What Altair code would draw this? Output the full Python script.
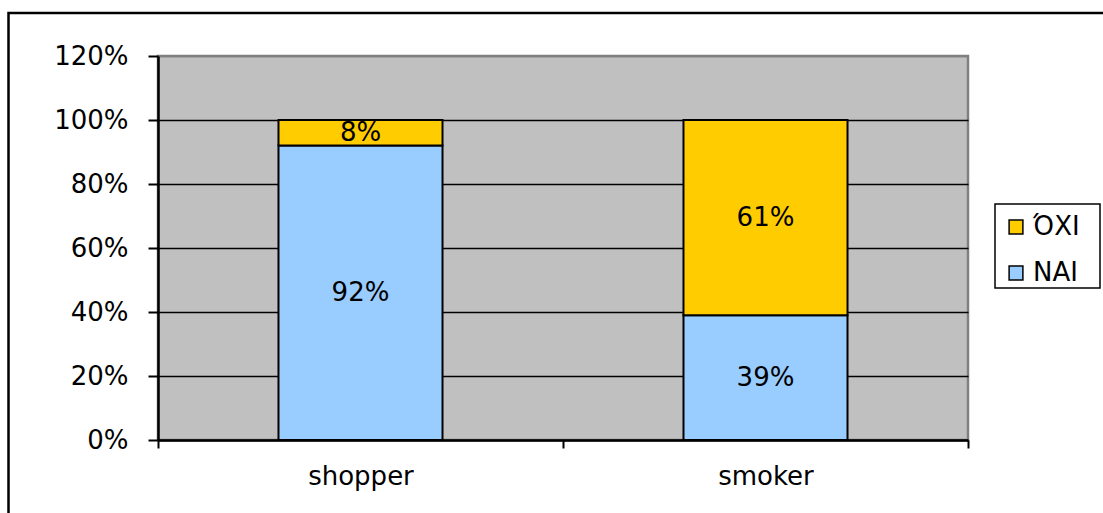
import altair as alt
import pandas as pd

categories = ["shopper", "smoker"]
answers_legend = ["ΌΧΙ", "ΝΑΙ"]
nai_values = [0.92, 0.39]
oxi_values = [0.08, 0.61]
y_ticks = [0, 0.2, 0.4, 0.6, 0.8, 1.0, 1.2]

rows = []
for i, c in enumerate(categories):
    rows.append({"category": c, "answer": "ΝΑΙ", "value": nai_values[i], "order": 0})
    rows.append({"category": c, "answer": "ΌΧΙ", "value": oxi_values[i], "order": 1})
df = pd.DataFrame(rows)

FONT = "DejaVu Sans"
FS = 26

x_enc = alt.X(
    "category:N",
    sort=categories,
    scale=alt.Scale(paddingInner=0, paddingOuter=0),
    axis=alt.Axis(title=None, labelAngle=0, tickBand="extent", tickSize=8,
                  labelPadding=15, domainWidth=2.5, tickWidth=2),
)

bars = alt.Chart(df).mark_bar(
    stroke="black", strokeWidth=2, width=alt.RelativeBandSize(0.405)
).encode(
    x=x_enc,
    y=alt.Y(
        "value:Q",
        stack="zero",
        scale=alt.Scale(domain=[0, 1.2], nice=False),
        axis=alt.Axis(title=None, format=".0%", values=y_ticks, grid=True,
                      tickSize=10, labelPadding=20, domainWidth=2.5, tickWidth=2,
                      gridColor={"condition": {"test": "datum.value >= 1.19", "value": "#808080"},
                                 "value": "black"}),
    ),
    color=alt.Color(
        "answer:N",
        scale=alt.Scale(domain=answers_legend, range=["#FFCC00", "#99CCFF"]),
        legend=alt.Legend(title=None, orient="none", legendX=845, legendY=158,
                          padding=0, symbolType="square",
                          symbolSize=190, symbolStrokeColor="black", symbolStrokeWidth=1.5,
                          labelFontSize=FS, labelFont=FONT, labelColor="black",
                          rowPadding=20, labelOffset=4),
    ),
    order=alt.Order("order:Q", sort="ascending"),
)

labels = alt.Chart(df).transform_stack(
    stack="value", as_=["y0", "y1"], groupby=["category"],
    sort=[alt.SortField("order", "ascending")],
).transform_calculate(
    mid="(datum.y0 + datum.y1) / 2"
).mark_text(font=FONT, fontSize=FS, color="black", baseline="middle").encode(
    x=alt.X("category:N", sort=categories),
    y=alt.Y("mid:Q"),
    text=alt.Text("value:Q", format=".0%"),
)

frame = alt.Chart(pd.DataFrame({"a": [0]})).mark_rect(
    fill="transparent", stroke="black", strokeWidth=2.5
).encode(
    x=alt.value(-149.5), x2=alt.value(960), y=alt.value(-43), y2=alt.value(470)
)

legend_box = alt.Chart(pd.DataFrame({"a": [0]})).mark_rect(
    fill="white", stroke="black", strokeWidth=1.5
).encode(
    x=alt.value(837), x2=alt.value(942), y=alt.value(148), y2=alt.value(232)
)

chart = alt.layer(frame, legend_box, bars, labels).properties(
    width=810, height=384,
    autosize=alt.AutoSizeParams(type="none"),
    padding={"left": 158, "top": 56, "right": 135, "bottom": 73},
    background="white",
).configure_view(
    fill="#C0C0C0", stroke="#808080", strokeWidth=2.5
).configure_axis(
    domainColor="black", tickColor="black", gridWidth=1.5,
    labelFont=FONT, labelFontSize=FS, labelColor="black",
)

chart.save("out.html", embed_options={"renderer": "svg", "actions": False})
